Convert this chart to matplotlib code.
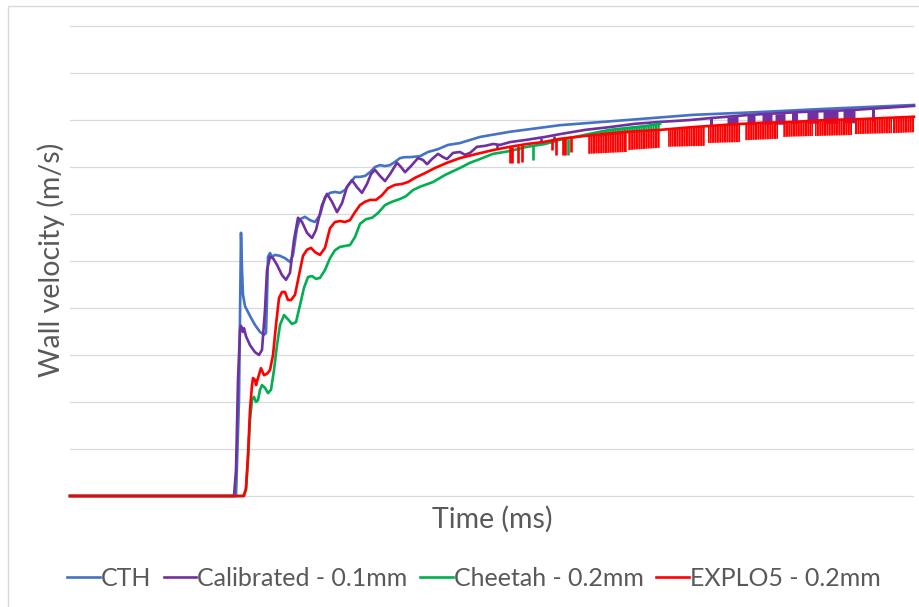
import matplotlib
matplotlib.use("Agg")
import matplotlib.pyplot as plt
from matplotlib.patches import Rectangle

plt.rcParams['font.family'] = ['Lato', 'DejaVu Sans']
plt.rcParams['hatch.linewidth'] = 1.5

# time (arbitrary units along the axis) and wall velocity (m/s)
cth_t = [0, 16.6, 16.9, 17.1, 17.2, 17.3, 17.5, 18.0, 18.5, 19.0,
         19.4, 19.6, 19.7, 19.8, 20.0, 20.2, 20.5, 21.0, 21.5, 22.0,
         22.3, 22.7, 23.0, 23.5, 24.0, 24.5, 25.0, 25.5, 26.0, 26.5,
         27.0, 27.5, 28.0, 28.5, 29.0, 29.5, 30.0, 30.5, 31.0, 31.5,
         32.0, 32.5, 33.0, 33.5, 34.0, 35.0, 35.8, 36.8, 37.8, 39.0,
         41.0, 44.0, 49.0, 55.7, 62.3, 69.0, 75.7, 84.4]
cth_v = [0, 0, 204, 560, 481, 428, 404, 383, 364, 349,
         343, 347, 417, 509, 517, 509, 513, 511, 506, 498,
         513, 570, 589, 594, 587, 583, 598, 636, 645, 647,
         645, 651, 666, 679, 679, 681, 689, 700, 704, 702,
         704, 711, 719, 721, 721, 723, 732, 738, 747, 751,
         764, 775, 789, 800, 811, 817, 824, 832]

cal_t = [0, 16.4, 16.6, 16.8, 17.0, 17.1, 17.3, 17.4, 17.6, 18.0,
         18.5, 18.9, 19.2, 19.5, 19.7, 20.0, 20.3, 20.7, 21.2, 21.6,
         22.0, 22.4, 22.8, 23.2, 23.7, 24.2, 24.6, 25.2, 25.7, 26.2,
         26.7, 27.2, 27.7, 28.2, 28.7, 29.2, 29.7, 30.1, 30.5, 31.0,
         31.5, 32.0, 32.7, 33.1, 33.5, 34.1, 34.8, 35.3, 35.7, 36.2,
         36.8, 37.3, 37.7, 38.3, 39.0, 39.5, 40.0, 40.7, 41.5, 42.3,
         43.0, 44.0, 45.7, 47.5, 49.0, 51.5, 54.0, 56.5, 59.0, 62.0,
         64.0, 68.0, 73.0, 78.0, 84.4]
cal_v = [0, 0, 55, 247, 353, 362, 349, 357, 340, 321,
         306, 300, 311, 396, 481, 509, 506, 492, 470, 460,
         475, 545, 592, 583, 560, 549, 566, 619, 643, 626,
         604, 623, 658, 672, 657, 645, 664, 685, 694, 681,
         670, 685, 709, 700, 689, 702, 719, 715, 706, 717,
         728, 721, 717, 730, 732, 726, 730, 743, 745, 749,
         747, 753, 758, 764, 770, 779, 785, 792, 796, 800,
         804, 811, 817, 821, 830]

chee_t = [0, 17.3, 17.6, 17.8, 18.0, 18.2, 18.4, 18.6, 18.8, 19.0,
          19.2, 19.5, 19.8, 20.1, 20.4, 20.7, 21.0, 21.4, 21.8, 22.2,
          22.6, 23.0, 23.4, 23.8, 24.2, 24.6, 25.0, 25.5, 26.0, 26.5,
          27.0, 27.5, 28.0, 28.5, 29.0, 29.6, 30.2, 30.8, 31.5, 32.2,
          33.0, 33.6, 34.3, 35.0, 36.3, 37.5, 39.0, 40.0, 41.0, 42.3,
          44.0, 45.7, 47.5, 49.0, 50.5, 52.3, 54.0, 55.7, 57.5, 59.0]
chee_v = [0, 0, 13, 77, 162, 204, 211, 200, 204, 226,
          236, 230, 219, 226, 268, 321, 364, 385, 376, 366,
          370, 406, 443, 466, 468, 462, 464, 481, 506, 523,
          530, 532, 534, 551, 579, 589, 592, 602, 619, 626,
          632, 638, 651, 658, 668, 683, 698, 709, 717, 728,
          734, 743, 749, 758, 764, 772, 779, 783, 787, 792]

exp_t = [0, 17.4, 17.6, 17.8, 18.0, 18.2, 18.3, 18.5, 18.6, 18.8,
         19.1, 19.4, 19.7, 20.0, 20.3, 20.6, 20.9, 21.2, 21.5, 21.8,
         22.1, 22.5, 22.9, 23.3, 23.7, 24.1, 24.5, 25.0, 25.5, 26.0,
         26.5, 27.0, 27.5, 28.0, 28.5, 29.0, 29.5, 30.0, 30.6, 31.2,
         31.8, 32.5, 33.2, 33.8, 34.5, 35.5, 36.5, 37.7, 39.0, 40.7,
         42.3, 44.0, 45.7, 47.3, 49.0, 52.3, 55.7, 59.0, 62.3, 65.7,
         69.0, 72.3, 75.7, 79.0, 84.4]
exp_v = [0, 0, 17, 87, 183, 236, 251, 247, 236, 251,
         272, 257, 260, 268, 300, 364, 421, 434, 434, 417,
         417, 428, 470, 511, 524, 528, 519, 513, 528, 570,
         583, 585, 583, 587, 604, 619, 626, 630, 630, 640,
         655, 662, 664, 668, 677, 687, 698, 709, 719, 728,
         736, 743, 749, 753, 760, 768, 775, 779, 785, 790,
         794, 796, 800, 802, 807]

# isolated solver dropouts: (time, line value, dip value)
cal_dips = [(42.7, 748, 738), (47.1, 762, 751), (48.4, 767, 753)]
chee_dips = [(46.3, 745, 715), (49.8, 760, 726)]
exp_dips = [(44.0, 743, 709), (44.2, 743, 709), (44.8, 745, 709),
            (45.2, 746, 711), (48.2, 757, 736), (48.6, 758, 726),
            (49.3, 760, 726), (49.5, 761, 726), (50.1, 762, 732)]

# dense dropout stretches: (t0, t1, top0, top1, low0, low1)
cal_bands = [(64.0, 64.3, 804, 804, 788, 788), (65.7, 66.8, 806, 808, 789, 789),
             (67.7, 68.5, 810, 811, 790, 790), (69.2, 70.2, 812, 813, 791, 791),
             (70.5, 71.5, 813, 814, 791, 791), (72.2, 72.8, 816, 816, 792, 792),
             (73.7, 74.8, 818, 819, 793, 793), (75.3, 76.8, 819, 820, 793, 793),
             (77.3, 78.5, 821, 822, 794, 794), (80.2, 80.5, 824, 824, 795, 795)]
chee_bands = [(53.0, 59.0, 777, 792, 764, 780)]
exp_bands = [(51.8, 55.7, 767, 775, 728, 732), (55.8, 59.0, 775, 779, 736, 741),
             (59.8, 63.5, 780, 786, 743, 745), (63.8, 67.0, 787, 791, 751, 753),
             (67.5, 70.8, 792, 795, 757, 760), (71.3, 74.3, 795, 798, 764, 766),
             (74.5, 78.2, 799, 802, 766, 768), (78.5, 82.2, 802, 805, 770, 772),
             (82.3, 84.4, 805, 807, 772, 774)]

series = [
    ("CTH", "#4472C4", cth_t, cth_v, [], [], False),
    ("Calibrated - 0.1mm", "#7030A0", cal_t, cal_v, cal_dips, cal_bands, True),
    ("Cheetah - 0.2mm", "#00B050", chee_t, chee_v, chee_dips, chee_bands, False),
    ("EXPLO5 - 0.2mm", "#FF0000", exp_t, exp_v, exp_dips, exp_bands, False),
]

fig = plt.figure(figsize=(9.2, 6.07), dpi=100)
ax = fig.add_axes([70 / 920, 0.1790, 844 / 920, 0.7820])

for name, col, t, v, dips, bands, solid in series:
    ax.plot(t, v, color=col, lw=1.9, label=name, clip_on=False, zorder=3)
    for td, top, low in dips:
        ax.vlines(td, low, top, color=col, lw=1.9, zorder=3)
    for t0, t1, a0, a1, b0, b1 in bands:
        if solid:
            ax.fill_between([t0, t1], [a0, a1], [b0, b1], color=col, lw=0, zorder=3)
        else:
            ax.fill_between([t0, t1], [a0, a1], [b0, b1], facecolor='none',
                            edgecolor=col, hatch='|||||||', lw=0, zorder=3)

ax.set_xlim(0, 84.4)
ax.set_ylim(-5, 1005)
ax.set_yticks(range(0, 1001, 100))
ax.set_yticklabels([])
ax.set_xticks([])
ax.tick_params(length=0)
ax.grid(axis='y', color='#d9d9d9', lw=0.9)
ax.set_axisbelow(True)
for s in ax.spines.values():
    s.set_visible(False)

txt = '#595959'
fig.text(51 / 920, 1 - 260 / 607, "Wall velocity (m/s)", rotation=90,
         ha='center', va='center', fontsize=20.5, color=txt)
fig.text(492 / 920, 1 - 519 / 607, "Time (ms)", ha='center', va='center',
         fontsize=20.5, color=txt)

leg = fig.legend(loc='center', bbox_to_anchor=(474 / 920, 1 - 578 / 607), ncol=4,
                 frameon=False, fontsize=18, handlelength=1.3, handletextpad=0.05,
                 columnspacing=0.5, borderpad=0)
for tx in leg.get_texts():
    tx.set_color(txt)

# chart area border
fig.patches.append(Rectangle((8 / 920, -0.2), 1.2, 1.2 - 6 / 607, transform=fig.transFigure,
                             fill=False, edgecolor='#d9d9d9', lw=1.0))

fig.savefig("out.png", dpi=100)
